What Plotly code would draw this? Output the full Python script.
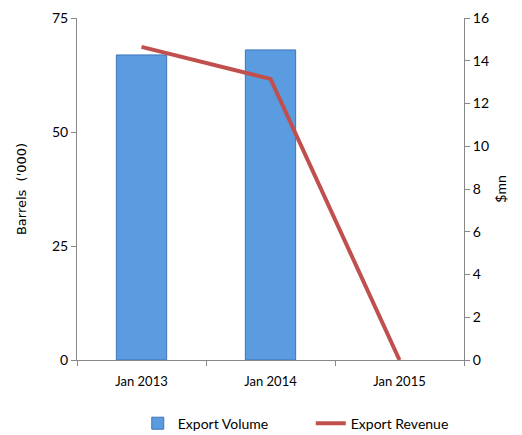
import plotly.graph_objects as go

categories = ["Jan 2013", "Jan 2014", "Jan 2015"]
export_volume = [66.9, 68.0, None]
export_revenue = [14.65, 13.15, 0]
left_ticks = [0, 25, 50, 75]
right_ticks = [0, 2, 4, 6, 8, 10, 12, 14, 16]

fig = go.Figure()
fig.add_trace(go.Bar(
    x=categories, y=export_volume, name="Export Volume",
    marker=dict(color="#5B9BE0", line=dict(color="#3F74B8", width=1)),
    width=0.39,
))
fig.add_trace(go.Scatter(
    x=categories, y=export_revenue, name="Export Revenue", yaxis="y2",
    mode="lines", line=dict(color="#C0504D", width=4),
))

font_narrow = "Lato, sans-serif"
fig.update_layout(
    width=514, height=427,
    margin=dict(l=69, r=58, t=10, b=75, autoexpand=False),
    plot_bgcolor="white", paper_bgcolor="white",
    showlegend=True,
    legend=dict(orientation="h", x=0.157, xanchor="left", y=-0.186, yanchor="middle",
                font=dict(family=font_narrow, size=14, color="black"),
                tracegroupgap=0, itemwidth=30, entrywidth=128, entrywidthmode="pixels"),
    xaxis=dict(
        type="category", tickson="boundaries", ticks="outside", ticklen=5,
        tickcolor="#888", showline=True, linecolor="#888", linewidth=1,
        tickfont=dict(family=font_narrow, size=13, color="black"),
        ticklabelstandoff=9,
        showgrid=False, range=[-0.5, 2.5], automargin=False,
    ),
    yaxis=dict(
        range=[0, 75], tickvals=left_ticks, ticks="outside", ticklen=5,
        tickcolor="#888", showline=True, linecolor="#888", linewidth=1,
        showgrid=False, zeroline=False, automargin=False,
        tickfont=dict(family=font_narrow, size=14, color="black"),
        title=dict(text="Barrels  ('000)", font=dict(family="DejaVu Sans", size=13, color="black"), standoff=22),
    ),
    yaxis2=dict(
        overlaying="y", side="right", range=[0, 16], tickvals=right_ticks,
        ticks="outside", ticklen=5, tickcolor="#888", showline=True,
        linecolor="#888", linewidth=1, showgrid=False, zeroline=False,
        automargin=False,
        tickfont=dict(family=font_narrow, size=14, color="black"),
        title=dict(text="$mn", font=dict(family=font_narrow, size=14, color="black"), standoff=8),
    ),
)

fig.write_html("out.html")
